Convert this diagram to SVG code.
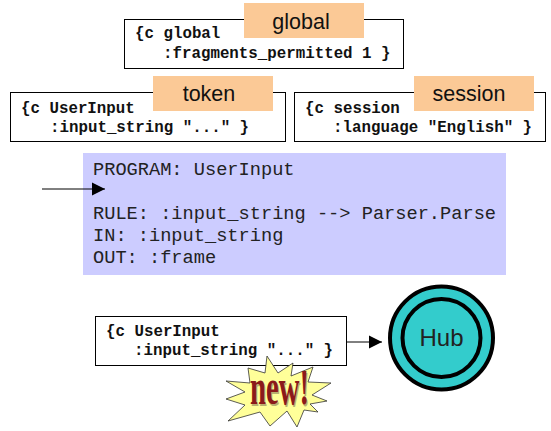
<svg xmlns="http://www.w3.org/2000/svg" width="551" height="431" viewBox="0 0 551 431">
<style>
.box{fill:#fff;stroke:#000;stroke-width:1}
.tag{fill:#fbc996}
.code{font:bold 15.8px "Liberation Mono",monospace;fill:#111;white-space:pre}
.sans{font:21.500px "Liberation Sans",Arial,sans-serif;fill:#111;text-anchor:middle}
.prog{font:18.660px "Liberation Mono",monospace;fill:#222;white-space:pre}
.conn{stroke:#000;stroke-width:1;fill:none}
.new{font:bold 50px "Liberation Serif",serif;text-anchor:middle}
</style>
<defs>
<marker id="arr" markerUnits="userSpaceOnUse" markerWidth="14" markerHeight="14" refX="13" refY="7" orient="auto"><path d="M0,0.5L13,7L0,13.500Z" fill="#000"/></marker>
</defs>
<rect width="551" height="431" fill="#fff"/>
<g id="global">
<rect class="box" x="124.500" y="19.500" width="279" height="49"/>
<text class="code" x="135" y="38">{c global</text>
<text class="code" x="163" y="58">:fragments_permitted 1 }</text>
<rect class="tag" x="244" y="3" width="120" height="35"/>
<text class="sans" x="301" y="29">global</text>
</g>
<g id="token">
<rect class="box" x="10.500" y="92.500" width="275" height="49"/>
<text class="code" x="21" y="113">{c UserInput</text>
<text class="code" x="50" y="132">:input_string "..." }</text>
<rect class="tag" x="153" y="76" width="120" height="35"/>
<text class="sans" x="209" y="101">token</text>
</g>
<g id="session">
<rect class="box" x="294.500" y="92.500" width="251" height="49"/>
<text class="code" x="305" y="113">{c session</text>
<text class="code" x="333" y="132">:language "English" }</text>
<rect class="tag" x="414" y="76" width="120" height="35"/>
<text class="sans" x="469" y="101">session</text>
</g>
<g id="program">
<rect x="83" y="153" width="423" height="122" fill="#ccf"/>
<text class="prog" x="93" y="175">PROGRAM: UserInput</text>
<text class="prog" x="93" y="219">RULE: :input_string --&gt; Parser.Parse</text>
<text class="prog" x="93" y="241">IN: :input_string</text>
<text class="prog" x="93" y="263">OUT: :frame</text>
</g>
<g id="userinput">
<rect class="box" x="95.500" y="316.500" width="251" height="49"/>
<text class="code" x="106" y="336">{c UserInput</text>
<text class="code" x="134" y="355">:input_string "..." }</text>
</g>
<g id="new">
<polygon points="267,356 278,373 293,363 291,376 313,367 308,382 331,383 312,395 327,401 310,404 318,412 304,410 297,427 287,411 270,426 260,412 228,421 245,405 226,399 245,392 226,381 250,383 248,368 265,373" fill="#ffff99" stroke="#333" stroke-width="0.800"/>
<text class="new" x="280.500" y="405.500" fill="#b8b070" textLength="59" lengthAdjust="spacingAndGlyphs">new!</text>
<text class="new" x="279.500" y="404" fill="#8b1a1a" textLength="59" lengthAdjust="spacingAndGlyphs">new!</text>
</g>
<g id="hub">
<circle cx="441.500" cy="338" r="51.500" fill="#33cccc" stroke="#000" stroke-width="4"/>
<circle cx="441.500" cy="338" r="39" fill="#33cccc" stroke="#000" stroke-width="4"/>
<text x="441.500" y="346" font-family="Liberation Sans,Arial,sans-serif" font-size="24" fill="#222" text-anchor="middle">Hub</text>
</g>
<g id="connectors">
<path class="conn" d="M42,189H105" marker-end="url(#arr)"/>
<path class="conn" d="M347,342H382" marker-end="url(#arr)"/>
</g>
</svg>
